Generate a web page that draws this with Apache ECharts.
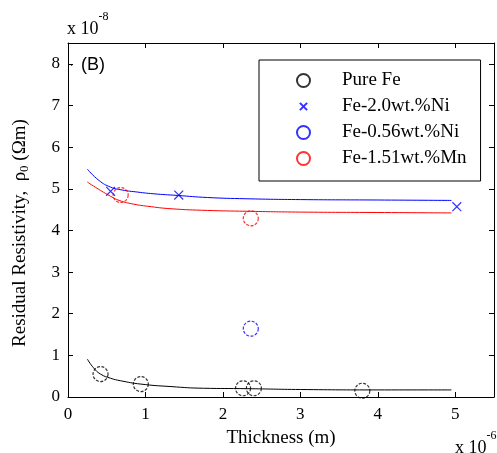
<!DOCTYPE html>
<html>
<head>
<meta charset="utf-8">
<script src="https://cdn.jsdelivr.net/npm/echarts@6/dist/echarts.min.js"></script>
<style>html,body{margin:0;padding:0;background:#fff}#c{width:497px;height:453px}</style>
</head>
<body>
<div id="c"></div>
<script>
// Tick labels (x in units of 1e-6 m, y in units of 1e-8 Ωm)
var xTicks = [0, 1, 2, 3, 4, 5];
var yTicks = [0, 1, 2, 3, 4, 5, 6, 7, 8];

// Measured points [thickness, resistivity]
var pureFe = [[0.42, 0.55], [0.94, 0.31], [2.26, 0.21], [2.40, 0.21], [3.80, 0.15]];
var fe20Ni = [[0.55, 4.94], [1.43, 4.85], [5.02, 4.57]];
var fe056Ni = [[2.36, 1.64]];
var fe151Mn = [[0.68, 4.85], [2.36, 4.29]];

// Fitted curves
var fitBlue = [[0.25, 5.47], [0.40, 5.20], [0.55, 5.04], [0.70, 4.97], [0.90, 4.92], [1.10, 4.88], [1.41, 4.84], [1.80, 4.79], [2.30, 4.76], [3.00, 4.74], [4.00, 4.73], [4.95, 4.72]];
var fitRed = [[0.25, 5.16], [0.42, 4.96], [0.55, 4.82], [0.66, 4.72], [0.85, 4.63], [1.03, 4.58], [1.33, 4.52], [1.80, 4.48], [2.30, 4.46], [3.00, 4.44], [4.00, 4.43], [4.95, 4.42]];
var fitBlack = [[0.25, 0.91], [0.33, 0.70], [0.42, 0.55], [0.55, 0.45], [0.68, 0.39], [0.94, 0.31], [1.33, 0.25], [1.75, 0.21], [2.30, 0.20], [3.00, 0.18], [4.00, 0.17], [4.95, 0.17]];

var serif = 'Liberation Serif';
var chart = echarts.init(document.getElementById('c'), null, {renderer: 'canvas'});

function tickFmt(list) {
  return function (v) { return (Math.abs(v - Math.round(v)) < 1e-9 && list.indexOf(Math.round(v)) >= 0) ? String(Math.round(v)) : ''; };
}

var crossPath = 'path://M-4,-4M14,14M0,0L10,10M10,0L0,10';
var circleDash = [3, 1.5];

function axisCommon() {
  return {
    axisLine: {show: true, onZero: false, lineStyle: {color: '#000', width: 1}},
    axisTick: {inside: true, length: 5, lineStyle: {color: '#000'}},
    splitLine: {show: false}
  };
}

chart.setOption({
  animation: false,
  backgroundColor: '#fff',
  grid: {left: 68, top: 43, right: 2, bottom: 56, containLabel: false},
  xAxis: [Object.assign(axisCommon(), {
    type: 'value', min: 0, max: 5.5, interval: 1,
    name: 'Thickness (m)', nameLocation: 'middle', nameGap: 32,
    nameTextStyle: {fontFamily: serif, fontSize: 19, color: '#000'},
    axisLabel: {fontFamily: serif, fontSize: 17, color: '#000', margin: 9, formatter: tickFmt(xTicks)}
  }), Object.assign(axisCommon(), {
    type: 'value', min: 0, max: 5.5, interval: 1, position: 'top',
    axisLabel: {show: false}
  })],
  yAxis: [Object.assign(axisCommon(), {
    type: 'value', min: 0, max: 8.5, interval: 1,
    name: '{a|Residual Resistivity,  ρ}{s|0}{a| (Ωm)}', nameLocation: 'middle', nameGap: 37,
    nameTextStyle: {rich: {
      a: {fontFamily: serif, fontSize: 19, color: '#000'},
      s: {fontFamily: serif, fontSize: 13, color: '#000', verticalAlign: 'bottom', padding: [8, 0, 0, 0]}
    }, padding: [0, 26, 0, 0]},
    axisLabel: {fontFamily: serif, fontSize: 17, color: '#000', margin: 8, formatter: tickFmt(yTicks)}
  }), Object.assign(axisCommon(), {
    type: 'value', min: 0, max: 8.5, interval: 1, position: 'right',
    axisLabel: {show: false}
  })],
  legend: {
    orient: 'vertical', left: 259, top: 60,
    padding: [11, 14, 13, 37],
    itemWidth: 13, itemHeight: 13, itemGap: 7,
    borderColor: '#000', borderWidth: 1, backgroundColor: '#fff',
    textStyle: {fontFamily: serif, fontSize: 19, color: '#000', padding: [0, 0, 0, 27]},
    data: ['Pure Fe', 'Fe-2.0wt.%Ni', 'Fe-0.56wt.%Ni', 'Fe-1.51wt.%Mn']
  },
  graphic: [
    {type: 'text', left: 67, top: 11, style: {
      text: '{a|x 10}{s|-8}',
      rich: {a: {fontFamily: serif, fontSize: 18, fill: '#000', padding: [9, 0, 0, 0]}, s: {fontFamily: serif, fontSize: 12, fill: '#000', verticalAlign: 'top'}}
    }},
    {type: 'text', left: 455, top: 430, style: {
      text: '{a|x 10}{s|-6}',
      rich: {a: {fontFamily: serif, fontSize: 18, fill: '#000', padding: [9, 0, 0, 0]}, s: {fontFamily: serif, fontSize: 12, fill: '#000', verticalAlign: 'top'}}
    }},
    {type: 'text', left: 81, top: 56, style: {text: '(B)', fontFamily: 'Liberation Sans', fontSize: 18, fill: '#000'}},
    {type: 'circle', shape: {cx: 71.5, cy: 65, r: 0.8}, style: {fill: '#000'}}
  ],
  series: [
    {type: 'line', data: fitBlack, showSymbol: false, smooth: true, lineStyle: {color: '#000', width: 1}, silent: true, z: 1},
    {type: 'line', data: fitBlue, showSymbol: false, smooth: true, lineStyle: {color: '#0000ff', width: 1}, silent: true, z: 1},
    {type: 'line', data: fitRed, showSymbol: false, smooth: true, lineStyle: {color: '#ff0000', width: 1}, silent: true, z: 1},
    {name: 'Pure Fe', type: 'scatter', data: pureFe, symbol: 'circle', symbolSize: 15,
      itemStyle: {color: 'rgba(0,0,0,0)', borderColor: '#000', borderWidth: 1.2, borderType: circleDash}, z: 3},
    {name: 'Fe-2.0wt.%Ni', type: 'scatter', data: fe20Ni, symbol: crossPath, symbolSize: 16,
      itemStyle: {color: 'rgba(0,0,0,0)', borderColor: '#0000ff', borderWidth: 1.2}, z: 3},
    {name: 'Fe-0.56wt.%Ni', type: 'scatter', data: fe056Ni, symbol: 'circle', symbolSize: 15,
      itemStyle: {color: 'rgba(0,0,0,0)', borderColor: '#0000ff', borderWidth: 1.2, borderType: circleDash}, z: 3},
    {name: 'Fe-1.51wt.%Mn', type: 'scatter', data: fe151Mn, symbol: 'circle', symbolSize: 15,
      itemStyle: {color: 'rgba(0,0,0,0)', borderColor: '#ff0000', borderWidth: 1.2, borderType: circleDash}, z: 3}
  ]
});
</script>
</body>
</html>
